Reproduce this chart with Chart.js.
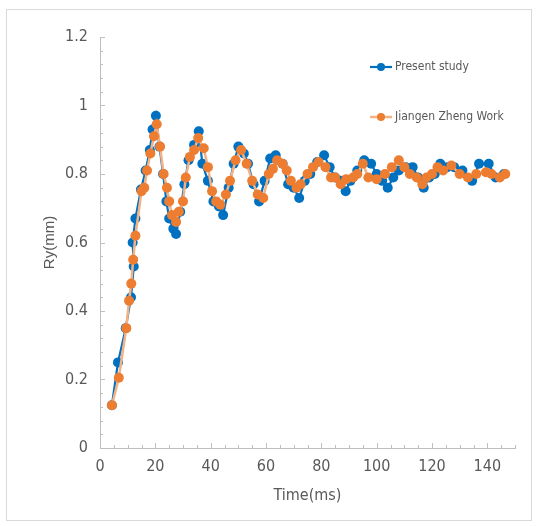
<!DOCTYPE html>
<html>
<head>
<meta charset="utf-8">
<script src="https://cdn.jsdelivr.net/npm/chart.js@4.4.1/dist/chart.umd.min.js"></script>
<style>
  html, body { margin: 0; padding: 0; background: #fff; }
  #wrap { position: relative; width: 540px; height: 526px; }
  #frame { position: absolute; left: 6px; top: 9px; width: 526px; height: 512px; border: 1px solid #d9d9d9; box-sizing: border-box; }
  #chart { position: absolute; left: 0; top: 0; }
</style>
</head>
<body>
<div id="wrap">
  <div id="frame"></div>
  <canvas id="chart" width="540" height="526"></canvas>
</div>
<script>
// Present study: time (ms) / Ry (mm)
const presentTime = [4.3, 6.5, 9.3, 11.2, 12.2, 11.8, 12.8, 14.8, 16.5, 18, 19, 20.2, 21.5, 22.8, 24, 25, 26.5, 27.5,
  29, 30.5, 32, 34, 35.7, 37, 39, 41, 43, 44.5, 46.5, 48.3, 50, 52, 53.5, 55.5, 57.5, 59.5, 61.5, 63.5, 66, 68, 70, 72,
  74, 76, 78.5, 81, 83, 85, 87, 88.8, 90.5, 93, 95.5, 98, 100, 102, 104, 106, 108, 110.5, 113, 115, 117, 119, 121,
  123, 125.5, 128, 131, 134.5, 137, 140.5, 143, 146];
const presentRy = [0.125, 0.25, 0.35, 0.44, 0.53, 0.60, 0.67, 0.755, 0.81, 0.87, 0.93, 0.97, 0.88, 0.80, 0.72, 0.67, 0.64, 0.625,
  0.69, 0.77, 0.84, 0.885, 0.925, 0.83, 0.78, 0.72, 0.705, 0.68, 0.76, 0.83, 0.88, 0.86, 0.83, 0.77, 0.72, 0.78, 0.845, 0.855, 0.83, 0.77, 0.76, 0.73,
  0.78, 0.80, 0.835, 0.855, 0.82, 0.79, 0.78, 0.75, 0.78, 0.81, 0.84, 0.83, 0.80, 0.78, 0.76, 0.79, 0.81, 0.82, 0.82, 0.79, 0.76, 0.79, 0.80,
  0.83, 0.82, 0.82, 0.81, 0.78, 0.83, 0.83, 0.79, 0.80];

// Jiangen Zheng work: time (ms) / Ry (mm)
const zhengTime = [4.3, 6.8, 9.5, 10.5, 11.3, 12, 12.8, 15, 16, 17, 18.2, 19.5, 20.5, 21.7, 23, 24.2, 25, 26, 27.5, 28.5,
  30, 31, 32.5, 34, 35.5, 37.5, 39, 40.5, 42, 43.5, 45.5, 47, 49, 51, 53, 55, 57, 59, 61, 62.5, 64, 66, 67.5, 69, 71,
  72.5, 75, 77, 79, 81.5, 83.5, 85, 87, 89, 91.5, 93, 95, 97, 100, 103, 105.5, 108, 110, 112, 114.5, 116.5, 118, 120,
  122, 124, 127, 130, 133, 136, 139.5, 141.5, 144.5, 146.5];
const zhengRy = [0.125, 0.205, 0.35, 0.43, 0.48, 0.55, 0.62, 0.75, 0.76, 0.81, 0.86, 0.91, 0.945, 0.88, 0.80, 0.76, 0.72, 0.68, 0.66, 0.69,
  0.72, 0.79, 0.85, 0.87, 0.905, 0.875, 0.82, 0.75, 0.72, 0.71, 0.74, 0.78, 0.84, 0.87, 0.83, 0.78, 0.74, 0.73, 0.80, 0.815, 0.84, 0.83, 0.81, 0.78, 0.76,
  0.77, 0.80, 0.82, 0.835, 0.82, 0.79, 0.79, 0.77, 0.785, 0.79, 0.80, 0.83, 0.79, 0.785, 0.80, 0.82, 0.84, 0.82, 0.80, 0.79, 0.77, 0.79, 0.80,
  0.82, 0.81, 0.825, 0.80, 0.79, 0.80, 0.805, 0.80, 0.79, 0.80];

// axis ranges: labelled step and minor tick step
const xRange = [0, 150], xMajor = 20, xMinor = 5;
const yRange = [0, 1.2], yMajor = 0.2, yMinor = 0.04;

const NARROW = "'Liberation Sans Narrow', 'DejaVu Sans Condensed', sans-serif";
const GREY = '#595959';

function pairs(xs, ys) {
  return xs.map((x, i) => ({ x: x, y: ys[i] }));
}

function isMultiple(v, step) {
  const r = v / step;
  return Math.abs(r - Math.round(r)) < 1e-6;
}

function stepTicks(scale, range, step) {
  const out = [];
  const n = Math.round((range[1] - range[0]) / step);
  for (let i = 0; i <= n; i++) out.push({ value: +(range[0] + i * step).toFixed(4) });
  scale.ticks = out;
}

// small inward tick marks along both axes
const innerTicks = {
  id: 'innerTicks',
  afterDatasetsDraw(chart) {
    const { ctx, chartArea, scales } = chart;
    ctx.save();
    ctx.strokeStyle = '#bfbfbf';
    ctx.lineWidth = 1;
    ctx.beginPath();
    scales.x.ticks.forEach(t => {
      const px = Math.round(scales.x.getPixelForValue(t.value)) + 0.5;
      const len = isMultiple(t.value, xMajor) ? 5 : 3;
      ctx.moveTo(px, chartArea.bottom);
      ctx.lineTo(px, chartArea.bottom - len);
    });
    scales.y.ticks.forEach(t => {
      const py = Math.round(scales.y.getPixelForValue(t.value)) + 0.5;
      const len = isMultiple(t.value, yMajor) ? 5 : 3;
      ctx.moveTo(chartArea.left, py);
      ctx.lineTo(chartArea.left + len, py);
    });
    ctx.stroke();
    ctx.restore();
  }
};

// legend stacked inside the plot area
const innerLegend = {
  id: 'innerLegend',
  afterDraw(chart) {
    const { ctx, chartArea } = chart;
    const x0 = chartArea.left + 270;
    ctx.save();
    chart.data.datasets.forEach((ds, i) => {
      const y = chartArea.top + 30 + i * 50;
      ctx.strokeStyle = ds.borderColor;
      ctx.lineWidth = ds.borderWidth;
      ctx.beginPath();
      ctx.moveTo(x0, y);
      ctx.lineTo(x0 + 22, y);
      ctx.stroke();
      ctx.fillStyle = ds.pointBackgroundColor;
      ctx.beginPath();
      ctx.arc(x0 + 11, y, 4, 0, Math.PI * 2);
      ctx.fill();
      ctx.fillStyle = GREY;
      ctx.font = '12px ' + NARROW;
      ctx.textBaseline = 'middle';
      ctx.fillText(ds.label, x0 + 25, y);
    });
    ctx.restore();
  }
};

new Chart(document.getElementById('chart'), {
  type: 'line',
  data: {
    datasets: [
      {
        label: 'Present study',
        data: pairs(presentTime, presentRy),
        borderColor: '#0070c0',
        borderWidth: 2.2,
        pointBackgroundColor: '#0070c0',
        pointBorderColor: '#0070c0',
        pointRadius: 5,
        pointBorderWidth: 0,
        tension: 0,
        order: 1
      },
      {
        label: 'Jiangen Zheng Work',
        data: pairs(zhengTime, zhengRy),
        borderColor: '#f4b183',
        borderWidth: 2.5,
        pointBackgroundColor: '#ed7d31',
        pointBorderColor: '#ed7d31',
        pointRadius: 5,
        pointBorderWidth: 0,
        tension: 0,
        order: 0
      }
    ]
  },
  options: {
    responsive: false,
    animation: false,
    layout: { padding: { left: 0, top: 37, right: 25, bottom: 0 } },
    plugins: {
      legend: { display: false },
      tooltip: { enabled: false }
    },
    scales: {
      x: {
        type: 'linear',
        min: xRange[0],
        max: xRange[1],
        afterBuildTicks: s => stepTicks(s, xRange, xMinor),
        afterFit: s => { s.height = 78; },
        grid: { display: true, drawOnChartArea: false, drawTicks: false },
        border: { display: true, color: '#bfbfbf', width: 1 },
        ticks: {
          autoSkip: false,
          maxRotation: 0,
          padding: 9,
          color: GREY,
          font: { family: NARROW, size: 16 },
          callback: v => isMultiple(v, xMajor) ? String(Math.round(v)) : ''
        },
        title: {
          display: true,
          text: 'Time(ms)',
          color: GREY,
          font: { family: NARROW, size: 16 },
          padding: { top: 0, bottom: 21 }
        }
      },
      y: {
        type: 'linear',
        min: yRange[0],
        max: yRange[1],
        afterBuildTicks: s => stepTicks(s, yRange, yMinor),
        afterFit: s => { s.width = 100; },
        grid: { display: true, drawOnChartArea: false, drawTicks: false },
        border: { display: true, color: '#bfbfbf', width: 1 },
        ticks: {
          autoSkip: false,
          padding: 12,
          color: GREY,
          font: { family: NARROW, size: 16 },
          callback: v => isMultiple(v, yMajor) ? String(+v.toFixed(1)) : ''
        },
        title: {
          display: true,
          text: 'Ry(mm)',
          color: GREY,
          font: { family: "'Liberation Sans', Arial, sans-serif", size: 15 },
          padding: { top: 41, bottom: 0 }
        }
      }
    }
  },
  plugins: [innerTicks, innerLegend]
});
</script>
</body>
</html>
